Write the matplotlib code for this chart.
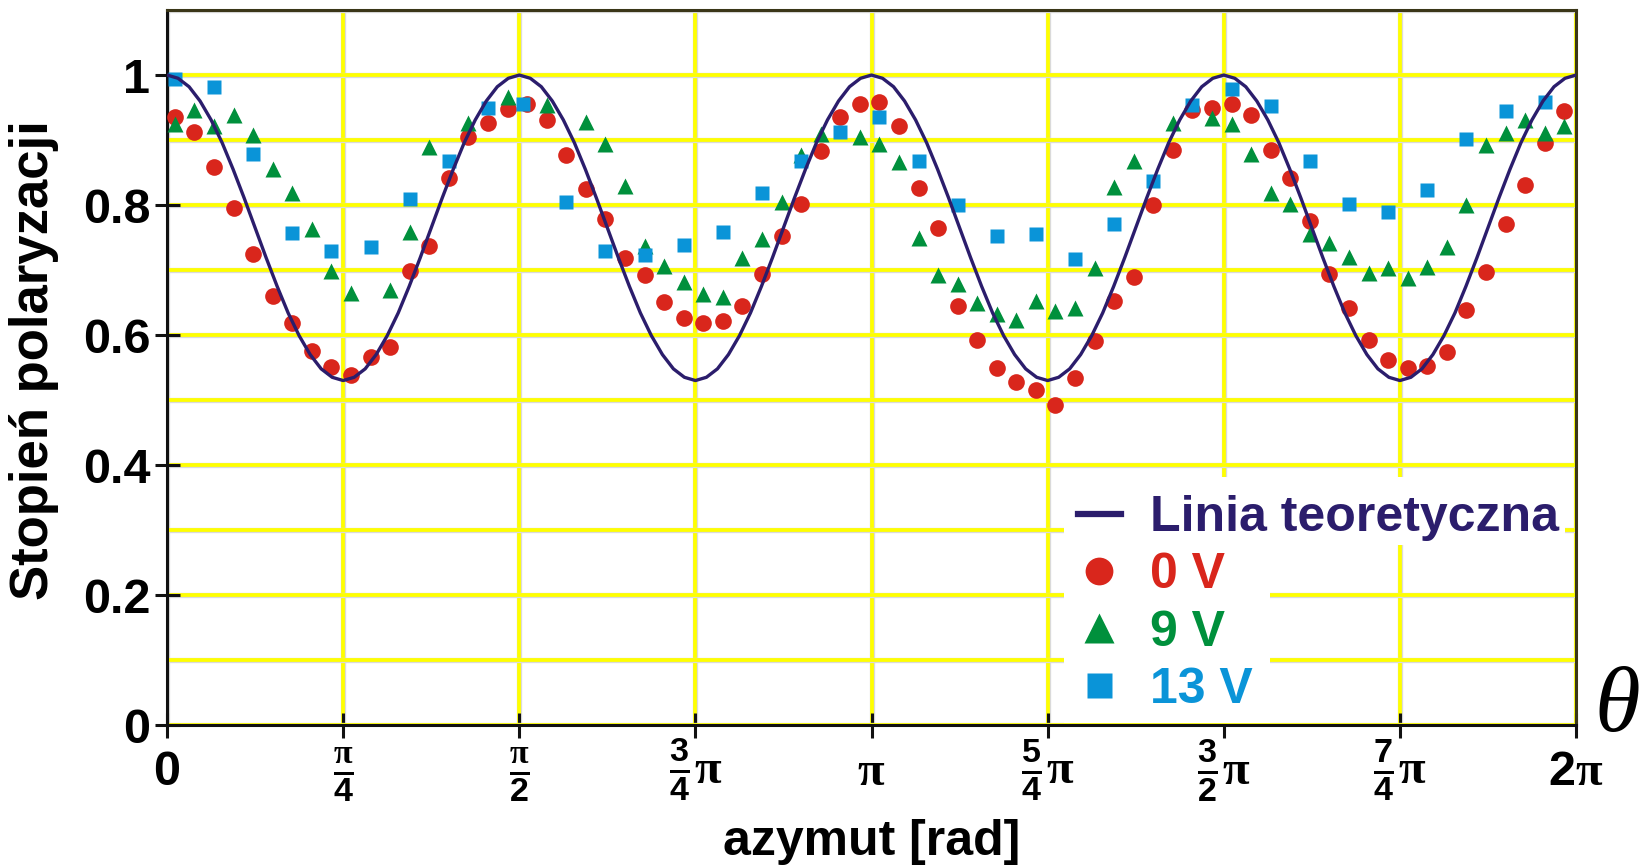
import numpy as np
import matplotlib
matplotlib.use("Agg")
import matplotlib.pyplot as plt
from matplotlib.lines import Line2D
from matplotlib.patches import Rectangle
from matplotlib import patheffects as pe

plt.rcParams['font.family'] = 'Liberation Sans'
plt.rcParams['font.weight'] = 'bold'
plt.rcParams['mathtext.fontset'] = 'custom'
plt.rcParams['mathtext.rm'] = 'Liberation Serif'
plt.rcParams['mathtext.bf'] = 'Liberation Sans:bold'
plt.rcParams['mathtext.it'] = 'Liberation Serif:italic'

# measured degree of polarisation vs azimuth (degrees)
deg_0V = [2, 7, 12, 17, 22, 27, 32, 37, 42, 47, 52, 57,
          62, 67, 72, 77, 82, 87, 92, 97, 102, 107, 112, 117,
          122, 127, 132, 137, 142, 147, 152, 157, 162, 167, 172, 177,
          182, 187, 192, 197, 202, 207, 212, 217, 222, 227, 232, 237,
          242, 247, 252, 257, 262, 267, 272, 277, 282, 287, 292, 297,
          302, 307, 312, 317, 322, 327, 332, 337, 342, 347, 352, 357]
p_0V = [0.935, 0.912, 0.859, 0.795, 0.725, 0.660, 0.618, 0.575, 0.551, 0.538, 0.566, 0.582,
        0.698, 0.737, 0.842, 0.904, 0.926, 0.948, 0.955, 0.931, 0.877, 0.825, 0.779, 0.718,
        0.692, 0.651, 0.626, 0.619, 0.622, 0.645, 0.694, 0.752, 0.802, 0.883, 0.936, 0.955,
        0.959, 0.922, 0.826, 0.765, 0.644, 0.592, 0.550, 0.527, 0.516, 0.493, 0.534, 0.591,
        0.652, 0.689, 0.800, 0.885, 0.946, 0.949, 0.956, 0.939, 0.885, 0.841, 0.776, 0.694,
        0.641, 0.592, 0.562, 0.550, 0.552, 0.574, 0.639, 0.697, 0.771, 0.831, 0.895, 0.944]

deg_9V = [2, 7, 12, 17, 22, 27, 32, 37, 42, 47, 57,
          62, 67, 77, 87, 97, 107, 112, 117,
          122, 127, 132, 137, 142, 147, 152, 157, 162, 167, 177,
          182, 187, 192, 197, 202, 207, 212, 217, 222, 227, 232, 237,
          242, 247, 257, 267, 272, 277, 282, 287, 292, 297,
          302, 307, 312, 317, 322, 327, 332, 337, 342, 347, 352, 357]
p_9V = [0.925, 0.946, 0.921, 0.938, 0.907, 0.855, 0.819, 0.763, 0.699, 0.665, 0.670,
        0.758, 0.889, 0.926, 0.966, 0.954, 0.928, 0.894, 0.830,
        0.737, 0.706, 0.682, 0.663, 0.659, 0.719, 0.747, 0.804, 0.877, 0.909, 0.905,
        0.894, 0.866, 0.750, 0.692, 0.679, 0.649, 0.633, 0.623, 0.652, 0.637, 0.641, 0.703,
        0.828, 0.867, 0.926, 0.934, 0.924, 0.879, 0.818, 0.802, 0.756, 0.741,
        0.720, 0.695, 0.703, 0.687, 0.704, 0.736, 0.800, 0.892, 0.911, 0.931, 0.911, 0.922]

deg_13V = [2, 12, 22, 32, 42, 52, 62, 72, 82, 91, 102, 112,
           122, 132, 142, 152, 162, 172, 182, 192, 202, 212, 222, 232,
           242, 252, 262, 272, 282, 292, 302, 312, 322, 332, 342, 352]
p_13V = [0.994, 0.982, 0.879, 0.757, 0.729, 0.736, 0.810, 0.868, 0.950, 0.955, 0.805, 0.729,
         0.723, 0.739, 0.758, 0.819, 0.868, 0.913, 0.935, 0.867, 0.800, 0.753, 0.755, 0.717,
         0.771, 0.837, 0.954, 0.979, 0.953, 0.867, 0.801, 0.790, 0.823, 0.902, 0.944, 0.959]

# theoretical curve sampled every pi/64
theory_x = np.linspace(0, 2 * np.pi, 129)
theory_p = [1.000, 0.995, 0.982, 0.960, 0.931, 0.896, 0.855, 0.811,
            0.765, 0.719, 0.675, 0.634, 0.599, 0.570, 0.548, 0.535,
            0.530, 0.535, 0.548, 0.570, 0.599, 0.634, 0.675, 0.719,
            0.765, 0.811, 0.855, 0.896, 0.931, 0.960, 0.982, 0.995,
            1.000, 0.995, 0.982, 0.960, 0.931, 0.896, 0.855, 0.811,
            0.765, 0.719, 0.675, 0.634, 0.599, 0.570, 0.548, 0.535,
            0.530, 0.535, 0.548, 0.570, 0.599, 0.634, 0.675, 0.719,
            0.765, 0.811, 0.855, 0.896, 0.931, 0.960, 0.982, 0.995,
            1.000, 0.995, 0.982, 0.960, 0.931, 0.896, 0.855, 0.811,
            0.765, 0.719, 0.675, 0.634, 0.599, 0.570, 0.548, 0.535,
            0.530, 0.535, 0.548, 0.570, 0.599, 0.634, 0.675, 0.719,
            0.765, 0.811, 0.855, 0.896, 0.931, 0.960, 0.982, 0.995,
            1.000, 0.995, 0.982, 0.960, 0.931, 0.896, 0.855, 0.811,
            0.765, 0.719, 0.675, 0.634, 0.599, 0.570, 0.548, 0.535,
            0.530, 0.535, 0.548, 0.570, 0.599, 0.634, 0.675, 0.719,
            0.765, 0.811, 0.855, 0.896, 0.931, 0.960, 0.982, 0.995,
            1.000]

x_ticks = [k * np.pi / 4 for k in range(9)]
x_labels = ['0', r'$\frac{\mathrm{\pi}}{\mathbf{4}}$', r'$\frac{\mathrm{\pi}}{\mathbf{2}}$',
            r'$\frac{\mathbf{3}}{\mathbf{4}}\mathrm{\pi}$', r'$\mathrm{\pi}$',
            r'$\frac{\mathbf{5}}{\mathbf{4}}\mathrm{\pi}$', r'$\frac{\mathbf{3}}{\mathbf{2}}\mathrm{\pi}$',
            r'$\frac{\mathbf{7}}{\mathbf{4}}\mathrm{\pi}$', r'$\mathbf{2}\mathrm{\pi}$']
y_ticks = [0, 0.2, 0.4, 0.6, 0.8, 1.0]
y_labels = ['0', '0.2', '0.4', '0.6', '0.8', '1']
y_minor = [0.1, 0.3, 0.5, 0.7, 0.9, 1.1]

NAVY = '#2b1d6c'
RED = '#d9261c'
GREEN = '#00903c'
BLUE = '#0a94d8'
YELLOW = '#ffff00'

fig = plt.figure(figsize=(16.41, 8.65), dpi=100)
ax = fig.add_axes([0.1018, 0.1618, 0.8586, 0.8266])

ax.plot(np.radians(deg_0V), p_0V, 'o', ms=12, color=RED, mec='none', zorder=3)
ax.plot(np.radians(deg_9V), p_9V, '^', ms=12, color=GREEN, mec='none', zorder=3.1)
ax.plot(np.radians(deg_13V), p_13V, 's', ms=10, color=BLUE, mec='none', zorder=3.2)
ax.plot(theory_x, theory_p, color=NAVY, lw=2.4, zorder=3.3, solid_joinstyle='round')

ax.set_xlim(0, 2 * np.pi)
ax.set_ylim(0, 1.1)
ax.set_xticks(x_ticks, x_labels)
ax.set_yticks(y_ticks, y_labels)
ax.set_yticks(y_minor, minor=True)

ax.set_axisbelow(True)
ax.grid(which='both', color=YELLOW, lw=2.7,
        path_effects=[pe.Stroke(linewidth=3.8, foreground='#dadada'), pe.Normal()])

ax.tick_params(which='major', direction='inout', length=18, width=2.2, color='#111111',
               labelsize=35)
ax.tick_params(which='minor', length=0)
ax.tick_params(axis='x', pad=34)
ax.tick_params(axis='y', pad=3)
for lbl in ax.get_xticklabels():
    lbl.set_verticalalignment('baseline')

for side in ['left', 'bottom']:
    ax.spines[side].set_color('#111111')
    ax.spines[side].set_linewidth(2.2)
for side in ['top', 'right']:
    ax.spines[side].set_color('#3a3618')
    ax.spines[side].set_linewidth(2.2)

ax.set_xlabel('azymut [rad]', fontsize=36, weight='bold')
ax.xaxis.set_label_coords(0.5, -0.131)
ax.set_ylabel('Stopień polaryzacji', fontsize=38, weight='bold')
ax.yaxis.set_label_coords(-0.077, 0.51)

fig.text(0.9854, 0.1813, 'θ', family='Liberation Serif', style='italic', weight='normal',
         size=67, ha='center', va='center')

handles = [Line2D([], [], color=NAVY, lw=4.5),
           Line2D([], [], ls='none', marker='o', ms=20, color=RED, mec='none'),
           Line2D([], [], ls='none', marker='^', ms=21, color=GREEN, mec='none'),
           Line2D([], [], ls='none', marker='s', ms=18, color=BLUE, mec='none')]
labels = ['Linia teoretyczna', '0 V', '9 V', '13 V']
leg = ax.legend(handles, labels, loc='upper left', bbox_to_anchor=(0.6466, 0.3216),
                frameon=False, prop=dict(weight='bold', size=36), handlelength=0.85,
                handletextpad=0.58, labelspacing=0.226, borderpad=0, borderaxespad=0)
leg.set_zorder(5)
for t, c in zip(leg.get_texts(), [NAVY, RED, GREEN, BLUE]):
    t.set_color(c)

# white backing behind the legend rows so the grid does not run through them
fig.canvas.draw()
r = fig.canvas.get_renderer()
W, H = fig.bbox.width, fig.bbox.height
lb = leg.get_window_extent(r)
tb = [t.get_window_extent(r) for t in leg.get_texts()]
boxes = [(lb.x0 - 14, tb[0].y0 - 4, tb[0].x1 + 6, tb[0].y1 + 18),
         (lb.x0 - 14, tb[3].y0 - 10, max(b.x1 for b in tb[1:]) + 18, tb[0].y0 - 4)]
for x0, y0, x1, y1 in boxes:
    ax.add_artist(Rectangle((x0 / W, y0 / H), (x1 - x0) / W, (y1 - y0) / H,
                            transform=fig.transFigure, facecolor='white',
                            edgecolor='none', zorder=4.5))

fig.savefig('out.png', dpi=100)
